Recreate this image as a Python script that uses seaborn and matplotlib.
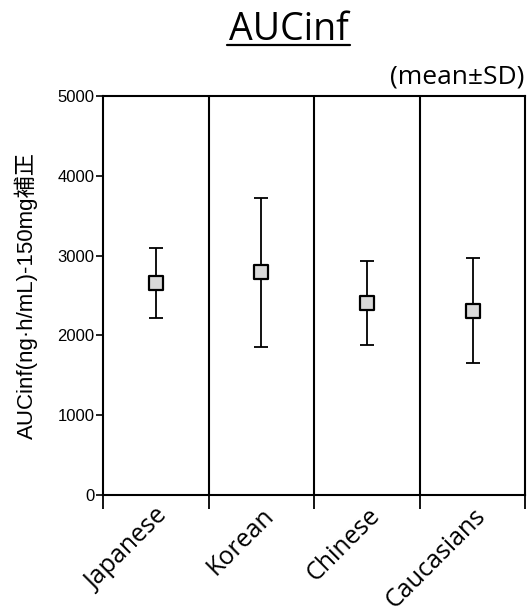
import matplotlib
matplotlib.use("Agg")
import matplotlib.pyplot as plt
import seaborn as sns
import pandas as pd

groups = ["Japanese", "Korean", "Chinese", "Caucasians"]
means = [2660, 2790, 2410, 2310]
sds = [440, 930, 525, 655]
yticks = [0, 1000, 2000, 3000, 4000, 5000]

sns.set_style("ticks")
plt.rcParams["font.family"] = ["Liberation Sans", "Noto Sans CJK JP", "DejaVu Sans"]
plt.rcParams["text.color"] = "black"
plt.rcParams["axes.labelcolor"] = "black"
plt.rcParams["xtick.color"] = "black"
plt.rcParams["ytick.color"] = "black"

df = pd.DataFrame({"group": groups, "mean": means, "sd": sds})
df["pos"] = range(len(groups))

fig = plt.figure(figsize=(5.27, 6.15), dpi=100)
ax = fig.add_axes([103 / 527, 1 - 495 / 615, 1 - 103 / 527 - 0.003, (495 - 96) / 615])

ax.errorbar(df["pos"], df["mean"], yerr=df["sd"], fmt="none", ecolor="black",
            elinewidth=1.3, capsize=5, capthick=1.3, zorder=2)
sns.scatterplot(data=df, x="pos", y="mean", marker="s", s=100, color="#d9d9d9",
                edgecolor="black", linewidth=1.6, ax=ax, zorder=3, legend=False)

for b in [0.5, 1.5, 2.5]:
    ax.axvline(b, color="black", lw=1.5, zorder=1)

ax.set_xlim(-0.5, 3.5)
ax.set_ylim(0, 5000)
ax.set_yticks(yticks)
ax.set_yticklabels([str(v) for v in yticks], fontsize=12)
ax.set_xticks(range(len(groups)))
ax.set_xticklabels(groups, rotation=45, ha="right", rotation_mode="anchor",
                   fontsize=18, family=["Open Sans", "DejaVu Sans"])
ax.tick_params(axis="x", length=0, pad=6)
ax.set_xticks([-0.5, 0.5, 1.5, 2.5, 3.5], minor=True)
ax.tick_params(axis="x", which="minor", length=10, width=1.3, direction="out")
ax.tick_params(axis="y", length=5, width=1.2, direction="out", pad=1)
for s in ax.spines.values():
    s.set_linewidth(1.5)
    s.set_color("black")
ax.set_xlabel("")
ax.set_ylabel("AUCinf(ng\u00b7h/mL)-150mg補正", fontsize=16, labelpad=14)

fig.text(289 / 527, 1 - 40 / 615, "AUCinf", ha="center", va="baseline",
         fontsize=27, family=["Open Sans", "DejaVu Sans"])
fig.add_artist(plt.Line2D([227 / 527, 350 / 527], [1 - 45 / 615, 1 - 45 / 615],
                          color="black", lw=1.6))
fig.text(524 / 527, 1 - 84 / 615, "(mean±SD)", ha="right", va="baseline",
         fontsize=19, family=["Open Sans", "DejaVu Sans"])

fig.savefig("out.png", dpi=100)
